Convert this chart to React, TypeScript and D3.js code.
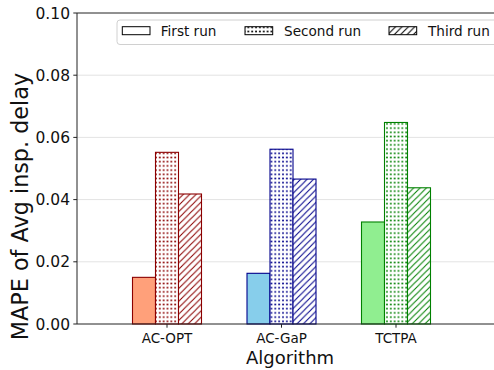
import React from "react";
import * as d3 from "d3";

const algorithms = ["AC-OPT", "AC-GaP", "TCTPA"];
const runs = ["First run", "Second run", "Third run"];
const firstRun = [0.0150, 0.0163, 0.0328];
const secondRun = [0.0552, 0.0562, 0.0648];
const thirdRun = [0.0418, 0.0466, 0.0438];
const yTicks = [0, 0.02, 0.04, 0.06, 0.08, 0.1];

const fillColors = ["#FFA07A", "#87CEEB", "#90EE90"];
const edgeColors = ["#8B0000", "#00008B", "#008000"];
const hatches = ["none", "dots", "lines"];

const W = 494;
const H = 370;
const left = 77;
const top = 13;
const bottom = 324;
const FONT = "DejaVu Sans, sans-serif";

export default function App() {
  const series = [firstRun, secondRun, thirdRun];
  const x = d3.scaleBand<string>().domain(algorithms).range([109.75, 453.25]);
  const xSub = d3
    .scaleBand<string>()
    .domain(runs)
    .range([22.75, x.bandwidth() - 22.75]);
  const y = d3.scaleLinear().domain([0, 0.1]).range([bottom, top]);
  const fmt = d3.format(".2f");

  const dotPattern = (id: string, color: string) => (
    <pattern id={id} patternUnits="userSpaceOnUse" width={3.85} height={4.2}>
      <rect width={3.85} height={4.2} fill="white" />
      <rect x={1.1} y={1.3} width={1.7} height={1.6} fill={color} />
    </pattern>
  );
  const linePattern = (id: string, color: string) => (
    <pattern id={id} patternUnits="userSpaceOnUse" width={6.4} height={6.4}>
      <rect width={6.4} height={6.4} fill="white" />
      <path
        d="M-1.6,1.6 L1.6,-1.6 M0,6.4 L6.4,0 M4.8,8 L8,4.8"
        stroke={color}
        strokeWidth={1.05}
      />
    </pattern>
  );

  const legendItems = [
    { label: runs[0], px: 122.3, tx: 160.7, hatch: "none" },
    { label: runs[1], px: 245, tx: 284, hatch: "dots" },
    { label: runs[2], px: 389, tx: 428, hatch: "lines" },
  ];

  return (
    <svg
      width={W}
      height={H}
      style={{ position: "absolute", left: 0, top: 0, background: "white" }}
      fontFamily={FONT}
    >
      <defs>
        {edgeColors.map((c, i) => (
          <React.Fragment key={i}>
            {dotPattern(`dots-${i}`, c)}
            {linePattern(`lines-${i}`, c)}
          </React.Fragment>
        ))}
        {dotPattern("dots-k", "#000")}
        {linePattern("lines-k", "#000")}
      </defs>

      {/* grid */}
      {yTicks.slice(1, -1).map((t) => (
        <line
          key={t}
          x1={left}
          x2={W}
          y1={y(t)}
          y2={y(t)}
          stroke="#e3e3e3"
          strokeWidth={1}
        />
      ))}

      {/* bars */}
      {algorithms.map((a, ai) =>
        series.map((vals, si) => {
          const x0 = (x(a) as number) + (xSub(runs[si]) as number);
          const fill =
            hatches[si] === "none"
              ? fillColors[ai]
              : `url(#${hatches[si]}-${ai})`;
          return (
            <rect
              key={`${a}-${si}`}
              x={x0}
              y={y(vals[ai])}
              width={xSub.bandwidth()}
              height={bottom - y(vals[ai])}
              fill={fill}
              stroke={edgeColors[ai]}
              strokeWidth={1.1}
            />
          );
        })
      )}

      {/* spines */}
      <line x1={left} x2={W} y1={top} y2={top} stroke="#222" strokeWidth={1} />
      <line x1={left} x2={W} y1={bottom} y2={bottom} stroke="#222" strokeWidth={1} />
      <line x1={left} x2={left} y1={top} y2={bottom} stroke="#222" strokeWidth={1} />

      {/* y ticks */}
      {yTicks.map((t) => (
        <g key={t}>
          <line x1={left - 3.7} x2={left} y1={y(t)} y2={y(t)} stroke="#222" />
          <text
            x={left - 7}
            y={y(t)}
            dy="0.36em"
            textAnchor="end"
            fontSize={15.5}
            fill="#111"
          >
            {fmt(t)}
          </text>
        </g>
      ))}

      {/* x ticks */}
      {algorithms.map((a) => {
        const cx = (x(a) as number) + x.bandwidth() / 2;
        return (
          <g key={a}>
            <line x1={cx} x2={cx} y1={bottom} y2={bottom + 3.7} stroke="#222" />
            <text x={cx} y={343} textAnchor="middle" fontSize={13.5} fill="#111">
              {a}
            </text>
          </g>
        );
      })}

      {/* axis labels */}
      <text x={290} y={364} textAnchor="middle" fontSize={18} fill="#111">
        Algorithm
      </text>
      <text
        transform="translate(27.5,206.5) rotate(-90)"
        textAnchor="middle"
        fontSize={22.3}
        fill="#111"
      >
        MAPE of Avg insp. delay
      </text>

      {/* legend */}
      <rect
        x={117}
        y={20}
        width={400}
        height={24.5}
        rx={3}
        fill="white"
        fillOpacity={0.8}
        stroke="#d0d0d0"
        strokeWidth={1}
      />
      {legendItems.map((it) => (
        <g key={it.label}>
          <rect
            x={it.px}
            y={26.7}
            width={27.7}
            height={8}
            fill={it.hatch === "none" ? "white" : `url(#${it.hatch}-k)`}
            stroke="#000"
            strokeWidth={1}
          />
          <text x={it.tx} y={35.5} fontSize={13.6} fill="#111">
            {it.label}
          </text>
        </g>
      ))}
    </svg>
  );
}
